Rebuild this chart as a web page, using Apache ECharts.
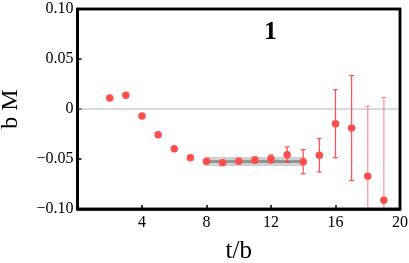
<!DOCTYPE html>
<html>
<head>
<meta charset="utf-8">
<script src="https://cdn.jsdelivr.net/npm/echarts@6/dist/echarts.min.js"></script>
<style>html,body{margin:0;padding:0;background:#fff;}#c{width:409px;height:263px;}</style>
</head>
<body>
<div id="c"></div>
<script>
var tValues = [2, 3, 4, 5, 6, 7, 8, 9, 10, 11, 12, 13, 14, 15, 16, 17, 18, 19];
var bM = [0.011, 0.0137, -0.007, -0.0257, -0.0397, -0.0487, -0.0523, -0.0537, -0.0523, -0.051, -0.050, -0.0457, -0.0527, -0.0463, -0.0147, -0.019, -0.0673, -0.0913];
var bMErr = [0.001, 0.001, 0.001, 0.001, 0.001, 0.001, 0.0015, 0.0015, 0.002, 0.003, 0.004, 0.0077, 0.012, 0.0167, 0.034, 0.0525, 0.070, 0.103];
var fitRange = [8, 14];
var fitValue = -0.0525;
var fitErr = 0.0045;
var xTicks = [0, 4, 8, 12, 16, 20];
var yTicks = [-0.10, -0.05, 0, 0.05, 0.10];
var panelLabel = '1';

var FONT = 'Liberation Serif';
var RED = '#ff4d4d';

var points = tValues.map(function (t, i) { return [t, bM[i]]; });
var errData = tValues.map(function (t, i) { return [t, bM[i] - bMErr[i], bM[i] + bMErr[i]]; });
var bandData = [[fitRange[0], fitRange[1], fitValue - fitErr, fitValue + fitErr, fitValue]];

function fmtY(v) {
  var r = Math.round(v * 100);
  if (r === 0) return '0';
  var s = (Math.abs(r) / 100).toFixed(2);
  return (r < 0 ? '\u2212' : '') + s;
}

var xMin = xTicks[0], xMax = xTicks[xTicks.length - 1];
var yMin = yTicks[0], yMax = yTicks[yTicks.length - 1];

var chart = echarts.init(document.getElementById('c'), null, {renderer: 'canvas'});
chart.setOption({
  animation: false,
  backgroundColor: '#fff',
  grid: {left: 77.5, right: 9, top: 9, bottom: 54, outerBoundsMode: 'none', containLabel: false,
    show: true, borderColor: '#000', borderWidth: 2.5, backgroundColor: 'transparent'},
  xAxis: {
    type: 'value', min: xMin, max: xMax, interval: 4, position: 'bottom',
    name: 't/b', nameLocation: 'middle', nameGap: 30,
    nameTextStyle: {fontFamily: FONT, fontSize: 25, color: '#000'},
    axisLine: {show: true, onZero: false, lineStyle: {color: '#000', width: 2.5}},
    axisTick: {show: true, inside: true, length: 4, lineStyle: {color: '#000', width: 1.5}},
    axisLabel: {fontFamily: FONT, fontSize: 16, color: '#000', margin: 6,
      formatter: function (v) { return v === 0 ? '' : String(v); }},
    splitLine: {show: false}
  },
  yAxis: {
    type: 'value', min: yMin, max: yMax, interval: 0.05, position: 'left',
    name: 'b M', nameLocation: 'middle', nameGap: 55, nameRotate: 90,
    nameTextStyle: {fontFamily: FONT, fontSize: 24, color: '#000'},
    axisLine: {show: true, onZero: false, lineStyle: {color: '#000', width: 2.5}},
    axisTick: {show: true, inside: true, length: 4, lineStyle: {color: '#000', width: 1.5}},
    axisLabel: {fontFamily: FONT, fontSize: 16, color: '#000', margin: 4, formatter: fmtY},
    splitLine: {show: false}
  },
  graphic: [
    {type: 'text', left: 264, top: 19, z: 100,
     style: {text: panelLabel, fontFamily: FONT, fontSize: 26, fontWeight: 'bold', fill: '#000'}}
  ],
  series: [
    {
      type: 'line', data: [[xMin, 0], [xMax, 0]],
      symbol: 'none', lineStyle: {color: '#b4b4b4', width: 1}, silent: true, z: 1
    },
    {
      type: 'custom', data: bandData, silent: true, z: 2,
      renderItem: function (params, api) {
        var p0 = api.coord([api.value(0), api.value(3)]);
        var p1 = api.coord([api.value(1), api.value(2)]);
        var pc0 = api.coord([api.value(0), api.value(4)]);
        var pc1 = api.coord([api.value(1), api.value(4)]);
        return {type: 'group', children: [
          {type: 'rect', shape: {x: p0[0] - 3, y: p0[1], width: p1[0] - p0[0] + 6, height: p1[1] - p0[1], r: 3},
           style: {fill: 'rgba(170,170,170,0.55)'}},
          {type: 'line', shape: {x1: pc0[0] - 2, y1: pc0[1], x2: pc1[0] + 2, y2: pc1[1]},
           style: {stroke: 'rgba(120,120,120,0.8)', lineWidth: 2.5}}
        ]};
      }
    },
    {
      type: 'custom', data: errData, silent: true, z: 3,
      renderItem: function (params, api) {
        var cs = params.coordSys;
        var top = cs.y, bottom = cs.y + cs.height;
        var lo = api.coord([api.value(0), api.value(1)]);
        var hi = api.coord([api.value(0), api.value(2)]);
        var x = lo[0];
        var yLo = lo[1], yHi = hi[1];
        var clippedLo = yLo > bottom, clippedHi = yHi < top;
        var alpha = (clippedLo || clippedHi) ? 0.55 : 0.9;
        var col = 'rgba(255,60,60,' + alpha + ')';
        yLo = Math.min(yLo, bottom - 1); yHi = Math.max(yHi, top + 1);
        var ch = [{type: 'line', shape: {x1: x, y1: yLo, x2: x, y2: yHi}, style: {stroke: col, lineWidth: 1.2}}];
        if (!clippedLo) ch.push({type: 'line', shape: {x1: x - 2.5, y1: yLo, x2: x + 2.5, y2: yLo}, style: {stroke: col, lineWidth: 1.2}});
        if (!clippedHi) ch.push({type: 'line', shape: {x1: x - 2.5, y1: yHi, x2: x + 2.5, y2: yHi}, style: {stroke: col, lineWidth: 1.2}});
        return {type: 'group', children: ch};
      }
    },
    {
      type: 'scatter', data: points, symbol: 'circle', symbolSize: 7.5,
      itemStyle: {color: RED, opacity: 1}, z: 4
    },
    {
      // plot frame drawn around the grid's coordinate system
      type: 'custom', data: [[xMin, yMin]], silent: true, z: 10, clip: false,
      renderItem: function (params, api) {
        var cs = params.coordSys;
        return {type: 'rect', shape: {x: cs.x, y: cs.y, width: cs.width, height: cs.height},
          style: {fill: 'transparent', stroke: '#000', lineWidth: 2.5}};
      }
    }
  ]
});
</script>
</body>
</html>
